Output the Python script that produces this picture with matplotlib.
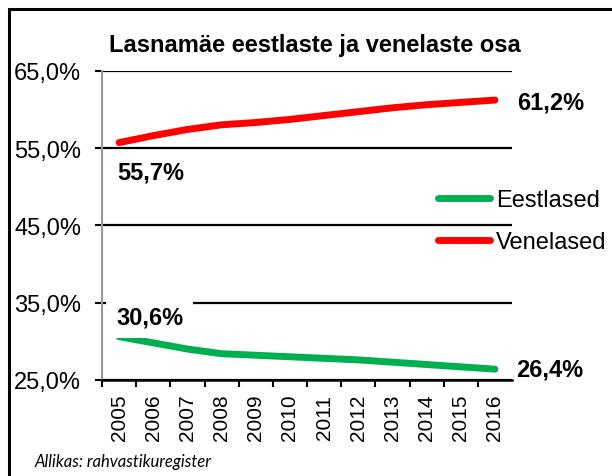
import matplotlib.pyplot as plt
from matplotlib.patches import Rectangle

# data
years = ['2005', '2006', '2007', '2008', '2009', '2010',
         '2011', '2012', '2013', '2014', '2015', '2016']
eestlased = [30.6, 29.8, 29.0, 28.4, 28.2, 28.0, 27.8, 27.6, 27.3, 27.0, 26.7, 26.4]
venelased = [55.7, 56.6, 57.4, 58.0, 58.3, 58.7, 59.2, 59.7, 60.2, 60.6, 60.9, 61.2]
y_ticks = [25, 35, 45, 55, 65]

plt.rcParams['font.family'] = ['Liberation Sans', 'DejaVu Sans']

green = '#00b050'
red = '#ff0000'

fig = plt.figure(figsize=(6.12, 4.77), dpi=100)
ax = fig.add_axes([0.1667, 0.2013, 0.670, 0.6484])

x = list(range(len(years)))
ax.plot(x, eestlased, color=green, lw=5, solid_capstyle='round', label='Eestlased', zorder=3)
ax.plot(x, venelased, color=red, lw=5, solid_capstyle='round', label='Venelased', zorder=3)

ax.set_xlim(-0.5, len(years) - 0.5)
ax.set_ylim(25, 65)

# y axis
ax.set_yticks(y_ticks)
ax.set_yticklabels([f'{v:.1f}%'.replace('.', ',') for v in y_ticks])
ax.tick_params(axis='y', length=5, width=1.5, color='black', labelsize=17, pad=10)
ax.set_axisbelow(True)
ax.grid(axis='y', color='black', lw=1.6)

# x axis: labels at centres, tick marks between categories
ax.set_xticks(x)
ax.set_xticklabels(years, rotation=90, fontsize=15)
ax.tick_params(axis='x', which='major', length=0, pad=10)
ax.set_xticks([i - 0.5 for i in x], minor=True)
ax.tick_params(axis='x', which='minor', length=5, width=1.5, color='black', direction='out')

for s in ['top', 'right']:
    ax.spines[s].set_visible(False)
ax.spines['left'].set_color('#999999')
ax.spines['left'].set_linewidth(1.5)
ax.spines['bottom'].set_color('black')
ax.spines['bottom'].set_linewidth(1.8)

# value labels
def lab(v):
    return f'{v:.1f}%'.replace('.', ',')

ax.annotate(lab(venelased[0]), (0, venelased[0]), xytext=(-2, -29), textcoords='offset pixels',
            ha='left', va='center', fontsize=17, fontweight='bold')
ax.annotate(lab(venelased[-1]), (x[-1], venelased[-1]), xytext=(22, -2), textcoords='offset pixels',
            ha='left', va='center', fontsize=17, fontweight='bold', annotation_clip=False)
ax.annotate(lab(eestlased[0]), (0, eestlased[0]), xytext=(-3, 20), textcoords='offset pixels',
            ha='left', va='center', fontsize=17, fontweight='bold',
            bbox=dict(facecolor='white', edgecolor='none', pad=7))
ax.annotate(lab(eestlased[-1]), (x[-1], eestlased[-1]), xytext=(21, 0), textcoords='offset pixels',
            ha='left', va='center', fontsize=17, fontweight='bold', annotation_clip=False)

fig.text(0.514, 0.905, 'Lasnamäe eestlaste ja venelaste osa', ha='center', va='center',
         fontsize=17, fontweight='bold')

fig.legend(loc='center left', bbox_to_anchor=(0.716, 0.535), frameon=False,
           fontsize=17, handlelength=2.2, handletextpad=0.25, labelspacing=0.85,
           borderpad=0, borderaxespad=0)

fig.text(0.057, 0.032, 'Allikas: rahvastikuregister', fontsize=12, style='italic',
         family=['Lato', 'DejaVu Sans'], ha='left', va='center')

# outer frame of the picture
fig.patches.append(Rectangle((0.014, -0.1), 1.2, 1.079, transform=fig.transFigure,
                             fill=False, edgecolor='black', lw=2.2))

plt.savefig('out.png', dpi=100)
